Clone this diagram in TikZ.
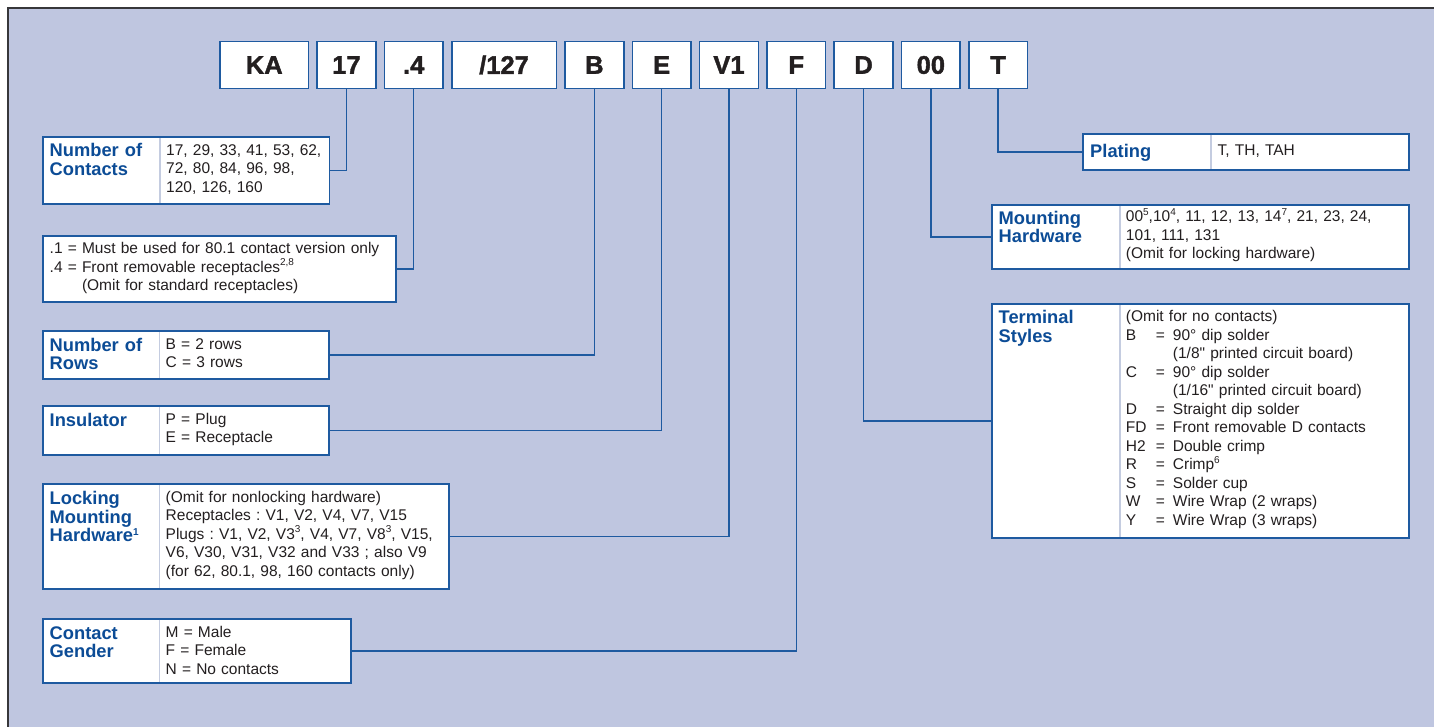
\documentclass[tikz,border=0pt]{standalone}
\usepackage{fontspec}
\setmainfont{Liberation Sans}[Ligatures=TeXOff]
\newfontfamily\codefont{Liberation Sans}[Ligatures=TeXOff, BoldFeatures={FakeBold=1.6}]
\usepackage{tikz}
\usetikzlibrary{positioning}
\definecolor{panelbg}{RGB}{191,198,224}
\definecolor{boxblue}{RGB}{30,90,160}
\definecolor{titleblue}{RGB}{12,76,150}
\definecolor{inkgray}{RGB}{35,31,32}
\definecolor{divgray}{RGB}{196,204,224}
\definecolor{framegray}{RGB}{55,55,58}
\newcommand{\supnote}[1]{\smash{\raisebox{6.5pt}{\fontsize{10}{10}\selectfont #1}}}
\newcommand{\tcode}[1]{\makebox[30pt][l]{#1}\makebox[17pt][l]{=}}

\begin{document}
\begin{tikzpicture}[
        x=1pt, y=-1pt,
        codebox/.style={draw=boxblue, line width=1.6pt, fill=white, minimum width=58.7pt, minimum height=47pt, inner sep=0pt, outer sep=0pt, text=inkgray, font=\codefont\fontsize{25.5}{27}\selectfont\bfseries},
        infobox/.style={draw=boxblue, line width=1.9pt, fill=white, anchor=north west, inner sep=0pt, outer sep=0pt},
        divline/.style={draw=divgray, line width=1.2pt, shorten <=0.9pt, shorten >=0.9pt},
        title/.style={anchor=base west, inner sep=0pt, text width=120pt, align=left, text=titleblue, font=\fontsize{18.3}{18.5}\selectfont\bfseries},
        val/.style={anchor=base west, inner sep=0pt, text width=400pt, align=left, text=inkgray, font=\fontsize{15.5}{18.5}\selectfont\frenchspacing},
        link/.style={draw=boxblue, line width=1.4pt}
    ]

    \useasboundingbox (0,0) rectangle (1434,727);

    % Panel
    \fill[panelbg] (7.5,8.5) rectangle (1434,727);
    \draw[framegray, line width=2pt] (7.5,727) -- (7.5,8.5) -- (1434,8.5);

    % Part number boxes
    \node[codebox, minimum width=88.5pt] (cKA) at (264.25,65) {KA};
    \node[codebox] (c17) [right=8.6pt of cKA] {17};
    \node[codebox] (c4) [right=8.6pt of c17] {.4};
    \node[codebox, minimum width=104.7pt] (c127) [right=8.6pt of c4] {/127};
    \node[codebox] (cB) [right=8.6pt of c127] {B};
    \node[codebox] (cE) [right=8.6pt of cB] {E};
    \node[codebox] (cV1) [right=8.6pt of cE] {V1};
    \node[codebox] (cF) [right=8.6pt of cV1] {F};
    \node[codebox] (cD) [right=8.6pt of cF] {D};
    \node[codebox] (c00) [right=8.6pt of cD] {00};
    \node[codebox] (cT) [right=8.6pt of c00] {T};

    % Left column of option boxes
    \node[infobox, minimum width=286.5pt, minimum height=67pt] (contacts) at (43,137) {};
    \draw[divline] ([xshift=117]contacts.north west) -- ([xshift=117]contacts.south west);
    \node[title] (contactsT) at (49.5,157) {Number of\\Contacts};
    \node[val] (contactsV) at (166,155.3) {17, 29, 33, 41, 53, 62,\\72, 80, 84, 96, 98,\\120, 126, 160};

    \node[infobox, minimum width=353pt, minimum height=66pt] (insert) at (43,236) {};
    \node[val] (insertV) at (49.5,254) {.1 = Must be used for 80.1 contact version only\\.4 = Front removable receptacles\supnote{2,8}\\\phantom{.4 = }(Omit for standard receptacles)};

    \node[infobox, minimum width=286pt, minimum height=48pt] (rows) at (43,331) {};
    \draw[divline] ([xshift=116.5]rows.north west) -- ([xshift=116.5]rows.south west);
    \node[title] (rowsT) at (49.5,351) {Number of\\Rows};
    \node[val] (rowsV) at (165.5,349.3) {B = 2 rows\\C = 3 rows};

    \node[infobox, minimum width=286pt, minimum height=49pt] (insul) at (43,406) {};
    \draw[divline] ([xshift=116.5]insul.north west) -- ([xshift=116.5]insul.south west);
    \node[title] (insulT) at (49.5,426) {Insulator};
    \node[val] (insulV) at (165.5,424.3) {P = Plug\\E = Receptacle};

    \node[infobox, minimum width=406pt, minimum height=105pt] (locking) at (43,484) {};
    \draw[divline] ([xshift=116.5]locking.north west) -- ([xshift=116.5]locking.south west);
    \node[title] (lockingT) at (49.5,504.5) {Locking\\Mounting\\Hardware\supnote{1}};
    \node[val] (lockingV) at (165.5,502.3) {(Omit for nonlocking hardware)\\Receptacles : V1, V2, V4, V7, V15\\Plugs : V1, V2, V3\supnote{3}, V4, V7, V8\supnote{3}, V15,\\V6, V30, V31, V32 and V33 ; also V9\\(for 62, 80.1, 98, 160 contacts only)};

    \node[infobox, minimum width=308pt, minimum height=64pt] (gender) at (43,619) {};
    \draw[divline] ([xshift=116.5]gender.north west) -- ([xshift=116.5]gender.south west);
    \node[title] (genderT) at (49.5,639) {Contact\\Gender};
    \node[val] (genderV) at (165.5,637.3) {M = Male\\F = Female\\N = No contacts};

    % Right column of option boxes
    \node[infobox, minimum width=326pt, minimum height=36pt] (plating) at (1083,134) {};
    \draw[divline] ([xshift=128]plating.north west) -- ([xshift=128]plating.south west);
    \node[title] (platingT) at (1090,157.3) {Plating};
    \node[val] (platingV) at (1217.5,156) {T, TH, TAH};

    \node[infobox, minimum width=417pt, minimum height=64pt] (mounting) at (992,205) {};
    \draw[divline] ([xshift=128]mounting.north west) -- ([xshift=128]mounting.south west);
    \node[title] (mountingT) at (998.5,224.5) {Mounting\\Hardware};
    \node[val] (mountingV) at (1125.7,222) {00\supnote{5},10\supnote{4}, 11, 12, 13, 14\supnote{7}, 21, 23, 24,\\101, 111, 131\\(Omit for locking hardware)};

    \node[infobox, minimum width=417pt, minimum height=234pt] (terminal) at (992,304) {};
    \draw[divline] ([xshift=128]terminal.north west) -- ([xshift=128]terminal.south west);
    \node[title] (terminalT) at (998.5,323.5) {Terminal\\Styles};
    \node[val] (terminalV) at (1125.7,321.8) {(Omit for no contacts)\\\tcode{B}90° dip solder\\\hspace*{47pt}(1/8" printed circuit board)\\\tcode{C}90° dip solder\\\hspace*{47pt}(1/16" printed circuit board)\\\tcode{D}Straight dip solder\\\tcode{FD}Front removable D contacts\\\tcode{H2}Double crimp\\\tcode{R}Crimp\supnote{6}\\\tcode{S}Solder cup\\\tcode{W}Wire Wrap (2 wraps)\\\tcode{Y}Wire Wrap (3 wraps)};

    % Connectors from the part number to the boxes
    \draw[link] (c17.south) |- (contacts.east);
    \draw[link] (c4.south) |- (insert.east);
    \draw[link] (cB.south) |- (rows.east);
    \draw[link] (cE.south) |- (insul.east);
    \draw[link] (cV1.south) |- (locking.east);
    \draw[link] (cF.south) |- (gender.east);
    \draw[link] (cD.south) |- (terminal.west);
    \draw[link] (c00.south) |- (mounting.west);
    \draw[link] (cT.south) |- (plating.west);

\end{tikzpicture}
\end{document}
